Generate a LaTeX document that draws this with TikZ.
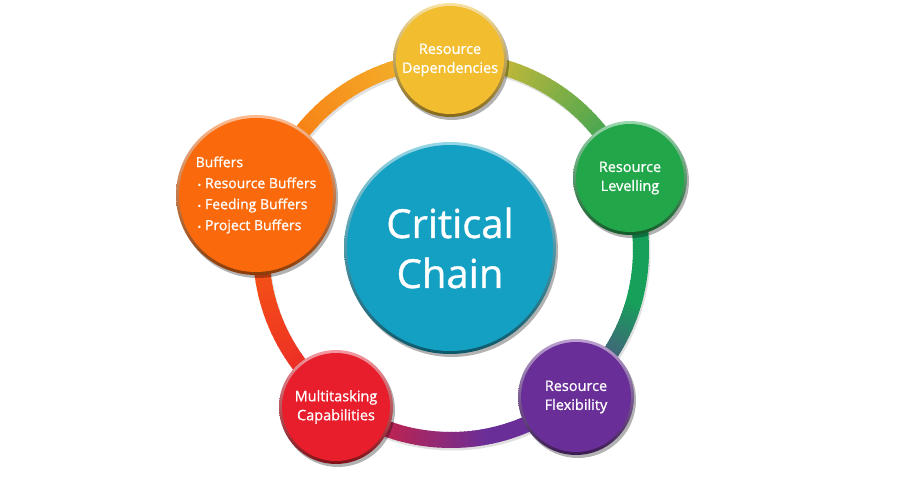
\documentclass[tikz,border=0pt]{standalone}
\usepackage{fontspec}
\setmainfont{Open Sans}[FakeBold=0.9]
\usetikzlibrary{shadows,calc}
\definecolor{corange}{RGB}{250,106,12}
\definecolor{cyellow}{RGB}{242,190,48}
\definecolor{cgreen}{RGB}{34,166,74}
\definecolor{cgreenring}{RGB}{22,160,90}
\definecolor{cpurple}{RGB}{106,46,152}
\definecolor{cred}{RGB}{232,30,44}
\definecolor{cteal}{RGB}{20,160,194}
\definecolor{cteallight}{RGB}{150,215,230}
\begin{document}
\begin{tikzpicture}[x=1pt,y=1pt,
  ball/.style={circle, inner sep=0pt, text=white, align=center,
    font=\fontsize{14.5}{19}\selectfont,
    shading=axis, shading angle=45,
    top color=#1!45!white, bottom color=#1!55!black,
    drop shadow={shadow xshift=2pt, shadow yshift=-3pt, opacity=0.3, fill=black},
    path picture={
      \path (path picture bounding box.north east) coordinate (ne)
            (path picture bounding box.center) coordinate (cc);
      \fill[#1] let \p1=($(ne)-(cc)$) in (cc) circle[radius=\x1-3pt];
    }},
  ringseg/.style={line width=16pt}
]
\useasboundingbox (0,0) rectangle (900,500);
\fill[white] (0,0) rectangle (900,500);
\coordinate (ring) at (451,250);
% ring shadow
\draw[line width=16pt, black, opacity=0.12] ([shift={(1.5pt,-2.5pt)}]ring) circle[radius=190pt];
% gradient ring
\foreach \A/\B/\ca/\cb in {22/90/cgreenring/cyellow, 90/164/cyellow/corange,
    164/234/corange/cred, 234/282/cred/cpurple, 282/310/cpurple/cpurple,
    310/345/cpurple/cgreenring, 345/382/cgreenring/cgreenring} {
  \foreach \i in {0,...,35} {
    \pgfmathtruncatemacro\p{100-\i*100/35}
    \pgfmathsetmacro\s{\A+(\B-\A)*\i/36}
    \pgfmathsetmacro\e{\A+(\B-\A)*(\i+1)/36+0.4}
    \draw[ringseg, color=\ca!\p!\cb] ([shift={(\s:190pt)}]ring)
      arc[start angle=\s, end angle=\e, radius=190pt];
  }
}
% satellite circles
\node[ball=cyellow, minimum size=114pt] (dep) at (450,440) {Resource\\Dependencies};
\node[ball=cgreen, minimum size=114pt] (lev) at (630,322) {Resource\\Levelling};
\node[ball=cpurple, minimum size=116pt] (flex) at (576,103) {Resource\\Flexibility};
\node[ball=cred, minimum size=114pt] (multi) at (336,93) {Multitasking\\Capabilities};
\node[ball=corange, minimum size=160pt, align=left,
      font=\fontsize{14}{21}\selectfont] (buf) at (256,305)
  {Buffers\\\hspace{2pt}{\fontsize{9}{9}\selectfont•}\hspace{4pt}Resource Buffers\\
   \hspace{2pt}{\fontsize{9}{9}\selectfont•}\hspace{4pt}Feeding Buffers\\
   \hspace{2pt}{\fontsize{9}{9}\selectfont•}\hspace{4pt}Project Buffers};
% central circle
\node[ball=cteal, top color=cteallight, minimum size=212pt,
      font=\fontsize{40}{50}\selectfont] (cc) at (450,252) {Critical\\Chain};
\end{tikzpicture}
\end{document}
